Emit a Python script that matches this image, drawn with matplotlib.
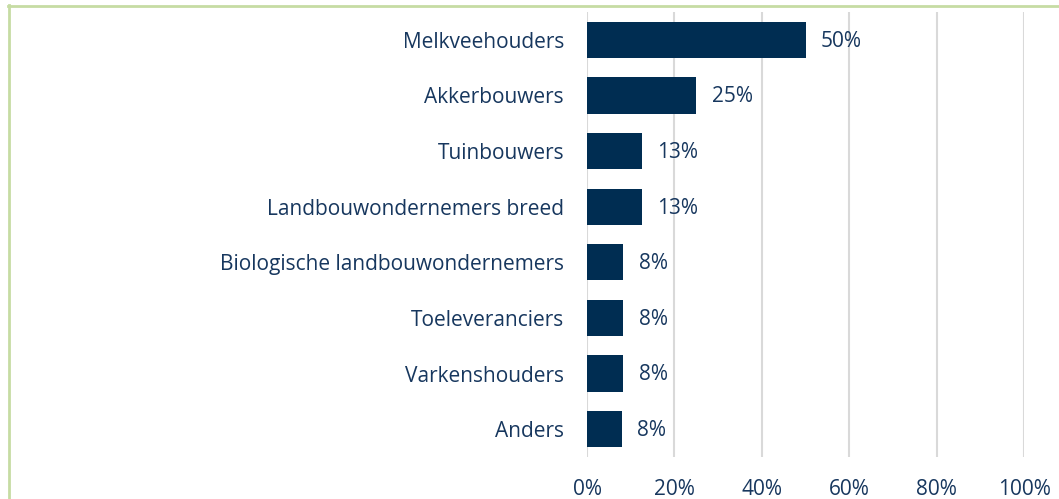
import matplotlib
matplotlib.use("Agg")
import matplotlib.pyplot as plt
from matplotlib.lines import Line2D

categories = ["Melkveehouders", "Akkerbouwers", "Tuinbouwers", "Landbouwondernemers breed",
              "Biologische landbouwondernemers", "Toeleveranciers", "Varkenshouders", "Anders"]
values = [50, 25, 12.5, 12.5, 8.3, 8.3, 8.3, 8.0]
value_labels = ["50%", "25%", "13%", "13%", "8%", "8%", "8%", "8%"]
xticks = [0, 20, 40, 60, 80, 100]
xtick_labels = ["0%", "20%", "40%", "60%", "80%", "100%"]

bar_color = "#002D52"
text_color = "#17375E"
grid_color = "#D9D9D9"
border_color = "#C6DCA3"

plt.rcParams['font.family'] = ['Open Sans', 'DejaVu Sans']
fs = 15

fig = plt.figure(figsize=(10.59, 4.99), dpi=100)
ax = fig.add_axes([587/1059, 1-457/499, (1024-587)/1059, (457-12)/499])

y = list(range(len(categories)))
ax.barh(y, values, height=0.65, color=bar_color, zorder=3)
ax.set_ylim(len(categories)-0.5, -0.5)
ax.set_xlim(0, 100)
ax.set_yticks(y)
ax.set_yticklabels(categories, fontsize=fs, color=text_color)
ax.set_xticks(xticks)
ax.set_xticklabels(xtick_labels, fontsize=fs, color=text_color)
ax.tick_params(axis='both', length=0)
ax.tick_params(axis='y', pad=16.5)
ax.tick_params(axis='x', pad=16)
ax.grid(axis='x', color=grid_color, linewidth=1.5, zorder=0)
for s in ax.spines.values():
    s.set_visible(False)

for yi, v, lab in zip(y, values, value_labels):
    ax.annotate(lab, (v, yi), xytext=(11, -1), textcoords='offset points',
                va='center', ha='left', fontsize=fs, color=text_color)

fig.add_artist(Line2D([9/1059, 9/1059], [0, 1-5/499], transform=fig.transFigure,
                      color=border_color, linewidth=2))
fig.add_artist(Line2D([8/1059, 1], [1-6/499, 1-6/499], transform=fig.transFigure,
                      color=border_color, linewidth=2))

fig.savefig("out.png", dpi=100, facecolor="white")
